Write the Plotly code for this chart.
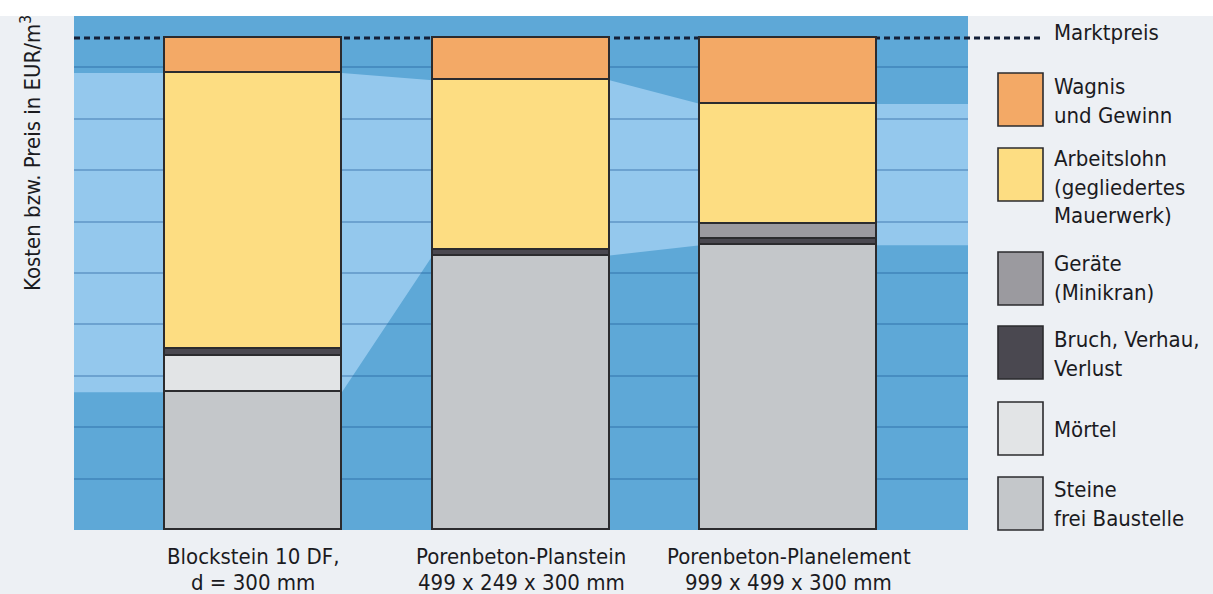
import plotly.graph_objects as go

# ---- data -------------------------------------------------------------
category_line1 = ["Blockstein 10 DF,", "Porenbeton-Planstein", "Porenbeton-Planelement"]
category_line2 = ["d = 300 mm", "499 x 249 x 300 mm", "999 x 499 x 300 mm"]

# cost components per wall type, stacked from bottom to top
steine = [2.68, 5.34, 5.54]
moertel = [0.71, 0.0, 0.0]
bruch = [0.13, 0.11, 0.12]
geraete = [0.0, 0.0, 0.29]
arbeitslohn = [5.37, 3.30, 2.34]
wagnis = [0.68, 0.82, 1.28]

marktpreis = 9.57

series_names = [
    "Steine frei Baustelle",
    "Mörtel",
    "Bruch, Verhau, Verlust",
    "Geräte (Minikran)",
    "Arbeitslohn (gegliedertes Mauerwerk)",
    "Wagnis und Gewinn",
]
series_values = [steine, moertel, bruch, geraete, arbeitslohn, wagnis]

# legend entries, top to bottom (text lines as printed)
legend_lines = [
    ["Wagnis", "und Gewinn"],
    ["Arbeitslohn", "(gegliedertes", "Mauerwerk)"],
    ["Geräte", "(Minikran)"],
    ["Bruch, Verhau,", "Verlust"],
    ["Mörtel"],
    ["Steine", "frei Baustelle"],
]

# ---- styling ----------------------------------------------------------
FONT = "DejaVu Sans Condensed, Liberation Sans Narrow, Arial Narrow, sans-serif"
TXT = "#1b1b1f"
OUTLINE = "#2b2b2e"
DARK_BLUE = "#5ea8d7"
LIGHT_BLUE = "#94c8ed"
GRID = "rgba(25,85,145,0.32)"
PAGE = "#edf0f4"

colors = {
    "Steine frei Baustelle": "#c4c7ca",
    "Mörtel": "#e2e4e6",
    "Bruch, Verhau, Verlust": "#4a4850",
    "Geräte (Minikran)": "#9b9a9f",
    "Arbeitslohn (gegliedertes Mauerwerk)": "#fddd82",
    "Wagnis und Gewinn": "#f3a966",
}
legend_order = list(reversed(series_names))

W, H = 1213, 594
ML, MR, MT, MB = 74, 245, 16, 64
PW, PH = W - ML - MR, H - MT - MB

X_MIN, X_MAX = -0.670, 2.669
BAR_W = 0.661
FS = 22


def paper_x(px):
    return (px - ML) / PW


def paper_y(py):
    return (H - MB - py) / PH


fig = go.Figure()
xs = list(range(len(category_line1)))

for name, vals in zip(series_names, series_values):
    fig.add_trace(go.Bar(
        x=xs,
        y=[v if v else None for v in vals],
        width=BAR_W,
        name=name,
        marker=dict(color=colors[name], line=dict(color=OUTLINE, width=1.6)),
        showlegend=False,
        hoverinfo="name+y",
    ))

# light band linking the bars between the stone cost and the cost price
totals = [sum(v) for v in zip(*series_values)]
upper = [t - w for t, w in zip(totals, wagnis)]
lower = steine
hw = BAR_W / 2
pts = [(X_MIN, upper[0])]
for i in xs:
    pts += [(i - hw, upper[i]), (i + hw, upper[i])]
pts.append((X_MAX, upper[-1]))
low_pts = [(X_MIN, lower[0])]
for i in xs:
    low_pts += [(i - hw, lower[i]), (i + hw, lower[i])]
low_pts.append((X_MAX, lower[-1]))
pts += list(reversed(low_pts))
band_path = "M " + " L ".join(f"{x:.4f},{y:.4f}" for x, y in pts) + " Z"
fig.add_shape(type="path", path=band_path, xref="x", yref="y",
              fillcolor=LIGHT_BLUE, line=dict(width=0), layer="below")

# white strip along the top of the page
fig.add_shape(type="rect", xref="paper", yref="paper",
              x0=paper_x(0), x1=paper_x(W), y0=1, y1=paper_y(0),
              fillcolor="white", line=dict(width=0), layer="below")

# market price line
fig.add_shape(type="line", xref="paper", yref="y",
              x0=0, x1=paper_x(1041), y0=marktpreis, y1=marktpreis,
              line=dict(color="#142038", width=3, dash="6px,4px"), layer="below")

annotations = []


def text_line(txt, px_left, baseline, size=FS, anchor="left", xref="paper", x=None):
    annotations.append(dict(
        text=txt, xref=xref, yref="paper",
        x=paper_x(px_left) if x is None else x,
        y=paper_y(baseline - 0.365 * size),
        xanchor=anchor, yanchor="middle", showarrow=False,
        font=dict(family=FONT, size=size, color=TXT),
    ))


text_line("Marktpreis", 1052, 41)

# legend boxes and labels
box_tops = [73, 148, 252, 326, 402, 477]
first_baselines = [95, 167, 272, 348, 438, 498]
for name, lines, top, base in zip(legend_order, legend_lines, box_tops, first_baselines):
    fig.add_shape(type="rect", xref="paper", yref="paper",
                  x0=paper_x(998), x1=paper_x(1043),
                  y0=paper_y(top + 53), y1=paper_y(top),
                  fillcolor=colors[name], line=dict(color=OUTLINE, width=1.6))
    for k, ln in enumerate(lines):
        text_line(ln, 1052, base + 28.5 * k)

# category labels under the bars
for i in xs:
    text_line(category_line1[i], 0, 565, anchor="center", xref="x", x=i)
    text_line(category_line2[i], 0, 591, anchor="center", xref="x", x=i)

# vertical axis title
annotations.append(dict(
    text="Kosten bzw. Preis in EUR/m<sup>3</sup>", textangle=-90,
    xref="paper", yref="paper", x=paper_x(31), y=paper_y(153),
    xanchor="center", yanchor="middle", showarrow=False,
    font=dict(family=FONT, size=FS, color=TXT),
))

fig.update_layout(
    width=W, height=H,
    margin=dict(l=ML, r=MR, t=MT, b=MB, pad=0),
    barmode="stack",
    bargap=0,
    paper_bgcolor=PAGE,
    plot_bgcolor=DARK_BLUE,
    font=dict(family=FONT, size=FS, color=TXT),
    showlegend=False,
    annotations=annotations,
    xaxis=dict(range=[X_MIN, X_MAX], showgrid=False, zeroline=False,
               showticklabels=False, ticks="", fixedrange=True),
    yaxis=dict(range=[0, 10], tickvals=list(range(1, 10)), showgrid=True,
               gridcolor=GRID, gridwidth=1.5, zeroline=False,
               showticklabels=False, ticks="", fixedrange=True),
)

fig.write_html("out.html", config={"displayModeBar": False})
